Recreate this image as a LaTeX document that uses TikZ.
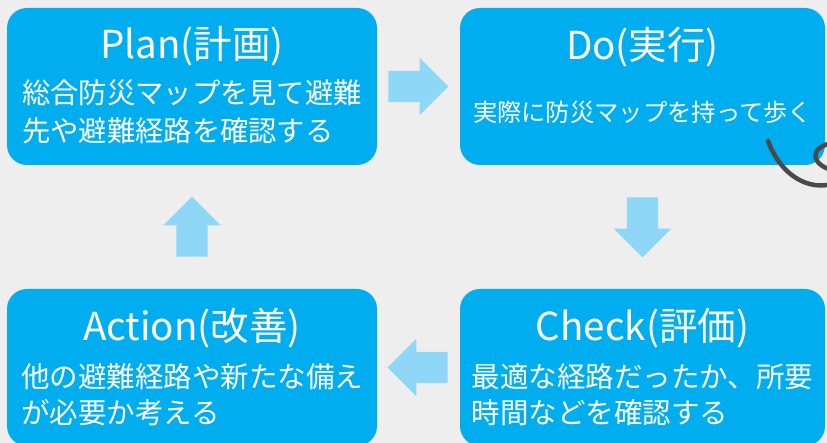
\documentclass[tikz,border=0pt]{standalone}
\usepackage{fontspec}
\setmainfont{Noto Sans CJK JP}
\usetikzlibrary{shapes.arrows}
\definecolor{boxblue}{HTML}{00AEEF}
\definecolor{arrowblue}{HTML}{8FD7F7}
\definecolor{bggray}{HTML}{EEEEEE}
\definecolor{pengray}{HTML}{4A4A4A}
\begin{document}
\begin{tikzpicture}[x = 1pt,y = 1pt,
   box/.style = {fill = boxblue,rounded corners = 20pt,minimum height = 157pt,inner sep = 0pt},
   title/.style = {text = white,font = \fontsize{38.5pt}{42pt}\selectfont,inner sep = 0pt},
   body/.style = {text = white,align = left,inner sep = 0pt},
   flow/.style = {single arrow,fill = arrowblue,inner sep = 15.5pt,single arrow head extend = 13pt,
      single arrow tip angle = 90,minimum height = 60pt,anchor = tail}]
   \useasboundingbox (0,0) rectangle (827,443);
   \clip (0,0) rectangle (827,443);
   \fill[bggray] (0,0) rectangle (827,443);
   \node[box,minimum width = 370pt] (plan) at (192,356.5) {};
   \node[box,minimum width = 365pt] (do) at (642.5,356.5) {};
   \node[box,minimum width = 365pt] (check) at (642.5,75.5) {};
   \node[box,minimum width = 370pt] (action) at (192,75.5) {};
   \node[title] (plantitle) at ([yshift = -38pt]plan.north) {Plan(計画)};
   \node[title] (dotitle) at ([yshift = -39pt]do.north) {Do(実行)};
   \node[title] (checktitle) at ([yshift = -39pt]check.north) {Check(評価)};
   \node[title] (actiontitle) at ([yshift = -39pt]action.north) {Action(改善)};
   \node[body,font = \fontsize{28.3pt}{38pt}\selectfont] (plantext) at ([yshift = -104pt]plan.north) {総合防災マップを見て避難\\先や避難経路を確認する};
   \node[body,font = \fontsize{24.3pt}{36pt}\selectfont] (dotext) at ([yshift = -105pt]do.north) {実際に防災マップを持って歩く};
   \node[body,font = \fontsize{28.5pt}{36pt}\selectfont] (checktext) at ([yshift = -106pt]check.north) {最適な経路だったか、所要\\時間などを確認する};
   \node[body,font = \fontsize{28.5pt}{36pt}\selectfont] (actiontext) at ([yshift = -106pt]action.north) {他の避難経路や新たな備え\\が必要か考える};
   \node[flow] (plantodo) at ([xshift = 11pt]plan.east) {};
   \node[flow,rotate = -90] (dotocheck) at ([yshift = -32pt]do.south) {};
   \node[flow,rotate = 180] (checktoaction) at ([xshift = -12pt]check.west) {};
   \node[flow,rotate = 90] (actiontoplan) at ([yshift = 32pt]action.north) {};
   \draw[pengray,line width = 4.5pt,line cap = round] (768,302) .. controls (782,265) and (810,253) .. (832,259);
   \draw[pengray,line width = 4.5pt,line cap = round] (832,273) .. controls (812,278) and (808,295) .. (832,300);
\end{tikzpicture}
\end{document}
